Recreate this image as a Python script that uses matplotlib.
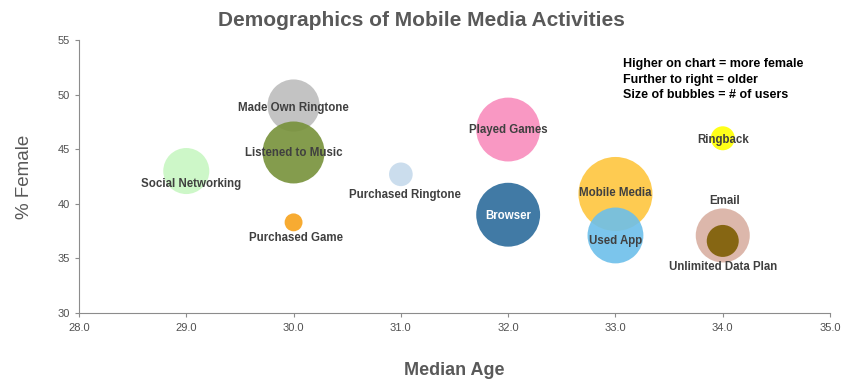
import matplotlib
matplotlib.use("Agg")
import matplotlib.pyplot as plt

activities = ["Made Own Ringtone", "Listened to Music", "Social Networking", "Purchased Game",
              "Purchased Ringtone", "Played Games", "Browser", "Mobile Media", "Used App",
              "Ringback", "Email", "Unlimited Data Plan"]
median_age = [30.0, 30.0, 29.0, 30.0, 31.0, 32.0, 32.0, 33.0, 33.0, 34.0, 34.0, 34.0]
pct_female = [49.0, 44.7, 43.0, 38.3, 42.7, 46.8, 39.0, 40.9, 37.1, 46.0, 37.1, 36.6]
users = [680, 960, 530, 80, 140, 1020, 1020, 1370, 780, 144, 730, 256]

colors = ["#bdbdbd", "#77913a", "#c8f7c2", "#f7a21b", "#c6daec", "#f98dbd", "#2c6c9b",
          "#fec63e", "#6dbfea", "#ffff00", "#d9b0a2", "#7d5d02"]
label_offsets = [(0, -2), (0, -1), (5, -13), (2, -16), (4, -21), (0, 0), (0, -1), (0, 1),
                 (0, -6), (0, -2), (2, 34), (0, -26)]
label_colors = ["#404040"] * 12
label_colors[6] = "white"

SANS = ["Liberation Sans", "DejaVu Sans"]

fig = plt.figure(figsize=(8.42, 3.81), dpi=100)
ax = fig.add_axes([0.0938, 0.1785, 0.892, 0.7165])

px2pt = 0.72
for i, name in enumerate(activities):
    ax.scatter(median_age[i], pct_female[i], s=(2 * users[i] ** 0.5 * px2pt) ** 2,
               color=colors[i], alpha=0.9, edgecolors="none", zorder=2 + i)
for i, name in enumerate(activities):
    dx, dy = label_offsets[i]
    ax.annotate(name, (median_age[i], pct_female[i]), xytext=(dx * px2pt, dy * px2pt),
                textcoords="offset points", ha="center", va="center", fontsize=8.3,
                fontweight="bold", color=label_colors[i], zorder=30, family=SANS)

ax.set_xlim(28, 35)
ax.set_ylim(30, 55)
ax.set_xticks([28, 29, 30, 31, 32, 33, 34, 35])
ax.set_xticklabels([f"{v:.1f}" for v in [28, 29, 30, 31, 32, 33, 34, 35]])
ax.set_yticks([30, 35, 40, 45, 50, 55])
for s in ["top", "right"]:
    ax.spines[s].set_visible(False)
for s in ["left", "bottom"]:
    ax.spines[s].set_color("#8c8c8c")
ax.tick_params(axis="both", colors="#8c8c8c", labelcolor="#505050", labelsize=8,
               length=3, direction="out")
ax.tick_params(axis="x", pad=4)
for lab in ax.get_xticklabels() + ax.get_yticklabels():
    lab.set_family(SANS)

ax.set_xlabel("Median Age", fontsize=13, fontweight="bold", color="#595959",
              family=SANS, labelpad=21)
ax.set_ylabel("% Female", fontsize=13.5, color="#595959", family=SANS, labelpad=18)
fig.text(0.5, 0.945, "Demographics of Mobile Media Activities", ha="center", va="center",
         fontsize=15, fontweight="bold", color="#595959", family=SANS)

notes = ["Higher on chart = more female", "Further to right = older", "Size of bubbles = # of users"]
for k, t in enumerate(notes):
    fig.text(623 / 842, 1 - (64 + 15.5 * k) / 381, t, ha="left", va="center", fontsize=9,
             fontweight="bold", color="black", family=SANS)

fig.savefig("out.png", dpi=100)
